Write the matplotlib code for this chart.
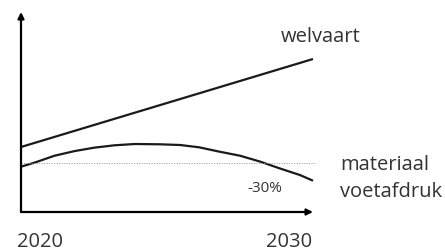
import matplotlib.pyplot as plt

plt.rcParams['font.family'] = ['Open Sans', 'DejaVu Sans']

# figure size in pixels (dpi 100)
W, H = 445, 252

years = [2020, 2030]
welvaart = [65, 153]

mat_years = [2020, 2020.5, 2021.15, 2021.85, 2022.5, 2023.2, 2023.9, 2024.75,
             2025.45, 2026.1, 2026.8, 2027.5, 2028.2, 2028.85, 2029.55, 2030]
mat_values = [45.3, 49.7, 56.3, 61, 64.3, 66.7, 68, 67.7,
              67, 64.7, 60.3, 56.3, 50.3, 43.7, 37, 31.3]

baseline = 49.5  # starting level of the material footprint (dotted)

text_col = '#333333'

fig = plt.figure(figsize=(W / 100, H / 100), dpi=100)
ax = fig.add_axes([21 / W, 40 / H, 292 / W, 200 / H])
ax.set_xlim(2020, 2030)
ax.set_ylim(0, 200)
ax.axis('off')

# axes with arrow heads
arrow = dict(arrowstyle='-|>', lw=1.6, color='black', mutation_scale=9,
             shrinkA=0, shrinkB=0)
ax.annotate('', xy=(1, 0), xytext=(0, 0), xycoords='axes fraction', arrowprops=arrow)
ax.annotate('', xy=(0, 1), xytext=(0, 0), xycoords='axes fraction', arrowprops=arrow)

ax.plot(years, welvaart, color='#1a1a1a', lw=1.6, solid_capstyle='butt', clip_on=False)
ax.plot(mat_years, mat_values, color='#1a1a1a', lw=1.6, solid_capstyle='butt', clip_on=False)
ax.plot([2020, 2030.07], [baseline, baseline], color='#999999', lw=0.6,
        linestyle=(0, (1.5, 1.5)), clip_on=False)

# labels
fig.text(281 / W, 1 - 37 / H, 'welvaart', fontsize=14.5, color=text_col, va='center', ha='left')
fig.text(340 / W, 1 - 165 / H, 'materiaal', fontsize=14.5, color=text_col, va='center', ha='left')
fig.text(340 / W, 1 - 192 / H, 'voetafdruk', fontsize=14.5, color=text_col, va='center', ha='left')
fig.text(282 / W, 1 - 188 / H, '-30%', fontsize=11, color=text_col, va='center', ha='right')
fig.text(17 / W, 1 - 247 / H, '2020', fontsize=14.5, color=text_col, va='baseline', ha='left')
fig.text(312 / W, 1 - 247 / H, '2030', fontsize=14.5, color=text_col, va='baseline', ha='right')

fig.savefig('out.png', dpi=100)
